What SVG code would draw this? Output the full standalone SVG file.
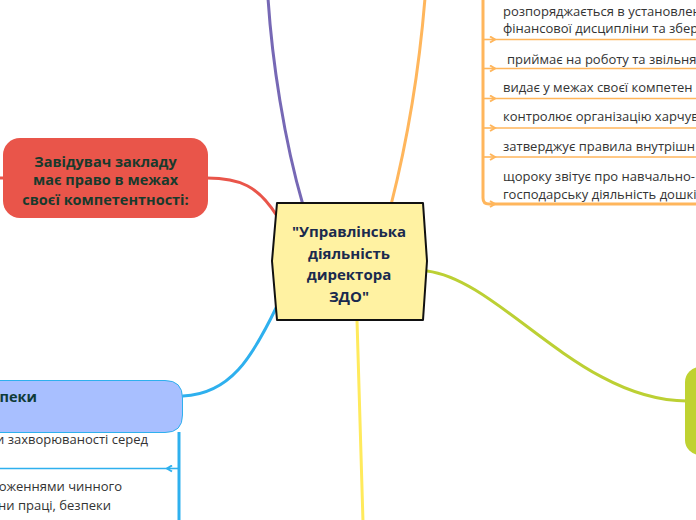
<svg xmlns="http://www.w3.org/2000/svg" width="696" height="520" viewBox="0 0 696 520">
<style>
.conn{fill:none;stroke-width:3;stroke-linecap:round}
.item{font-family:"Open Sans","Noto Sans",sans-serif;font-size:13px;fill:#333333}
.bold{font-family:"Open Sans","Noto Sans",sans-serif;font-weight:bold}
.sepO{stroke:#ffb65c;stroke-width:1.6;fill:none}
.sepB{stroke:#2eb0ee;stroke-width:1.6;fill:none}
</style>
<defs>
<marker id="arrO" markerWidth="8" markerHeight="8" refX="6" refY="4" orient="auto" markerUnits="userSpaceOnUse">
<path d="M1,1 L6,4 L1,7" fill="none" stroke="#ffb65c" stroke-width="2"/>
</marker>
<marker id="arrB" markerWidth="8" markerHeight="8" refX="6" refY="4" orient="auto" markerUnits="userSpaceOnUse">
<path d="M1,1 L6,4 L1,7" fill="none" stroke="#2eb0ee" stroke-width="2"/>
</marker>
</defs>
<rect width="696" height="520" fill="#ffffff"/>
<g id="connectors">
<path class="conn" stroke="#7668b5" d="M268,-2 C272,60 284,140 303,205"/>
<path class="conn" stroke="#ffb65c" d="M425,-2 C420,60 410,130 391,205"/>
<path class="conn" stroke="#e9554a" d="M207,178 C240,178 258,186 277,216"/>
<path class="conn" stroke="#e9554a" d="M-2,178 L4,178"/>
<path class="conn" stroke="#2eb0ee" d="M183,396 C230,394 252,358 277,306"/>
<path class="conn" stroke="#bcd034" d="M427,271 C500,280 580,401 687,401"/>
<path class="conn" stroke="#ffea5c" d="M357,320 L363,522"/>
</g>
<g id="list-orange">
<path d="M483,-2 L483,198 Q483,204 489,204 L696,204" fill="none" stroke="#ffb65c" stroke-width="3"/>
<path class="sepO" d="M483,39.5 L495,39.5" marker-end="url(#arrO)"/>
<path class="sepO" d="M495,39.5 L696,39.5"/>
<path class="sepO" d="M483,68.5 L495,68.5" marker-end="url(#arrO)"/>
<path class="sepO" d="M495,68.5 L696,68.5"/>
<path class="sepO" d="M483,98.5 L495,98.5" marker-end="url(#arrO)"/>
<path class="sepO" d="M495,98.5 L696,98.5"/>
<path class="sepO" d="M483,128 L495,128" marker-end="url(#arrO)"/>
<path class="sepO" d="M495,128 L696,128"/>
<path class="sepO" d="M483,157 L495,157" marker-end="url(#arrO)"/>
<path class="sepO" d="M495,157 L696,157"/>
<path class="sepO" d="M488,204 L495,204" marker-end="url(#arrO)"/>
<text class="item" x="503" y="16">розпоряджається в установлен</text>
<text class="item" x="503" y="33">фінансової дисципліни та збер</text>
<text class="item" x="507" y="63.5">приймає на роботу та звільня</text>
<text class="item" x="503" y="92">видає у межах своєї компетен</text>
<text class="item" x="503" y="121">контролює організацію харчув</text>
<text class="item" x="503" y="150.5">затверджує правила внутрішн</text>
<text class="item" x="503" y="180.5">щороку звітує про навчально-</text>
<text class="item" x="503" y="199">господарську діяльність дошкі</text>
</g>
<g id="node-red">
<rect x="3" y="138" width="205" height="80" rx="17" fill="#e9554a"/>
<text class="bold" font-size="14.5" fill="#173a2c" text-anchor="middle" x="105.5" y="166.5">Завідувач закладу</text>
<text class="bold" font-size="14.5" fill="#173a2c" text-anchor="middle" x="105.5" y="185">має право в межах</text>
<text class="bold" font-size="14.5" fill="#173a2c" text-anchor="middle" x="105.5" y="205">своєї компетентності:</text>
</g>
<g id="node-center">
<path d="M277,203 L423,203 L427,261 L423,320 L277,320 L272,261 Z" fill="#fff2a2" stroke="#111111" stroke-width="2" stroke-linejoin="round"/>
<text class="bold" font-size="15" fill="#1a2a4e" text-anchor="middle" x="349" y="237">"Управлінська</text>
<text class="bold" font-size="15" fill="#1a2a4e" text-anchor="middle" x="349" y="258.5">діяльність</text>
<text class="bold" font-size="15" fill="#1a2a4e" text-anchor="middle" x="349" y="280">директора</text>
<text class="bold" font-size="15" fill="#1a2a4e" text-anchor="middle" x="349" y="302">ЗДО"</text>
</g>
<g id="node-blue">
<path d="M-5,380.5 L165,380.5 Q182.5,380.5 182.5,398 L182.5,415 Q182.5,432.5 165,432.5 L-5,432.5 Z" fill="#a8bfff" stroke="#2eb0ee" stroke-width="1"/>
<text class="bold" font-size="14.5" fill="#0f3b38" text-anchor="end" x="37" y="402">пеки</text>
</g>
<g id="list-blue">
<path d="M179,432 L179,522" fill="none" stroke="#2eb0ee" stroke-width="3"/>
<path class="sepB" d="M179,468.5 L167,468.5" marker-end="url(#arrB)"/>
<path class="sepB" d="M167,468.5 L-2,468.5"/>
<text class="item" text-anchor="end" x="148" y="443.5">и захворюваності серед</text>
<text class="item" text-anchor="end" x="122" y="491">оженнями чинного</text>
<text class="item" text-anchor="end" x="111" y="509.5">ни праці, безпеки</text>
</g>
<g id="node-green">
<rect x="685" y="367" width="40" height="88" rx="15" fill="#bfd231"/>
</g>
</svg>
